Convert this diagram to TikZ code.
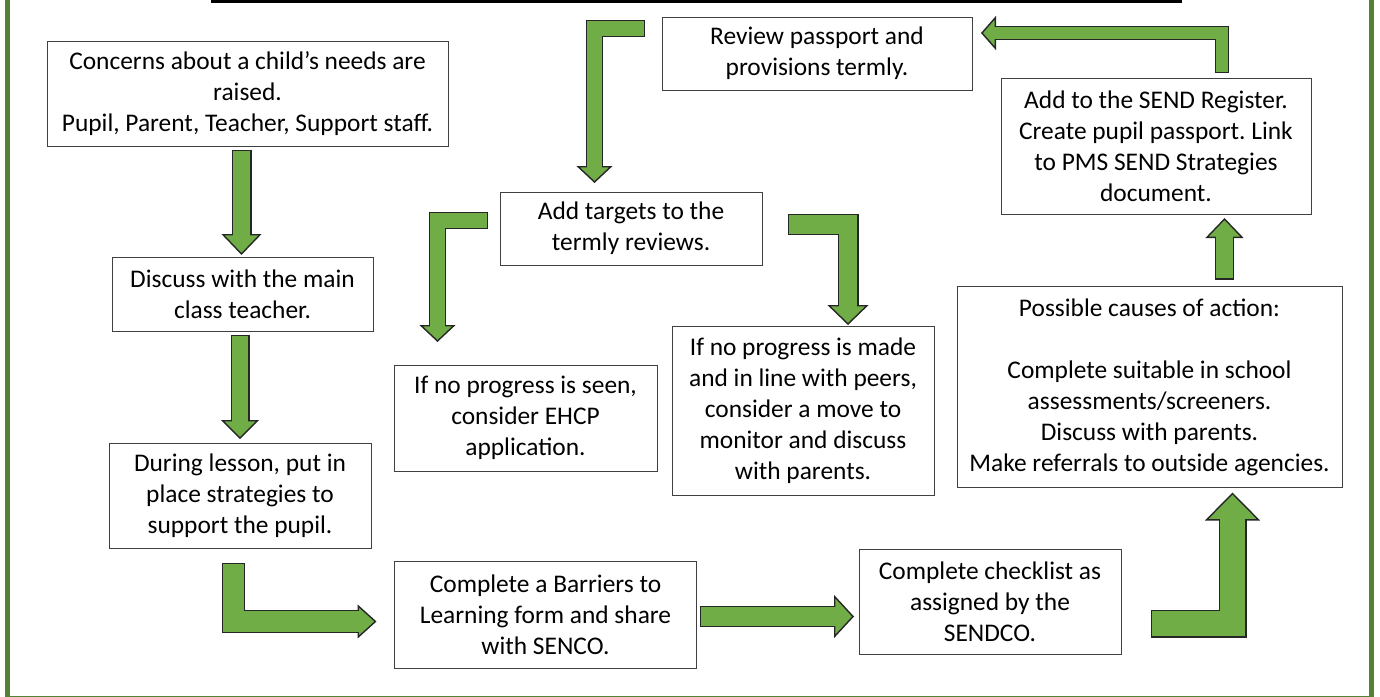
\documentclass[tikz,border=0pt]{standalone}
\usepackage{fontspec}
\setmainfont{Carlito}
\usetikzlibrary{positioning,arrows.meta,calc}
\frenchspacing
\definecolor{arrowgreen}{HTML}{70AD47}
\definecolor{framegreen}{HTML}{548235}
\definecolor{edgedark}{HTML}{262626}
\definecolor{boxline}{HTML}{404040}
\tikzset{
stepbox/.style 2 args = {rectangle, draw=boxline, line width=1pt, fill=white, align=center,
  minimum width=#1, minimum height=#2, inner sep=0pt, outer sep=0pt,
  font=\fontsize{25.4}{31}\selectfont}
}
\tikzset{
% shaft width, head width, head length
blockarrow/.style n args = {3}{draw=edgedark, line width=#1, line join=miter, line cap=butt,
  -{Triangle[width=#2, length=#3, line width=1.4pt, fill=arrowgreen, color=edgedark]},
  postaction={draw=arrowgreen, line width=#1-2.8pt, -, shorten <=1.4pt, shorten >=#3-3pt}}
}

\begin{document}
\begin{tikzpicture}[x=1pt, y=-1pt]
    \useasboundingbox (0,0) rectangle (1380,696);
    % frame and title rule
    \draw[framegreen, line width=5pt, line join=miter] (7.5,-10) |- (1371.5,698) -- (1371.5,-10);
    \fill[black] (211,0) rectangle (1182,3);

    % left column
    \node [stepbox={401pt}{105pt}] (concerns) at (247.5,93.5)
        {Concerns about a child’s needs are\\raised.\\Pupil, Parent, Teacher, Support staff.};
    \node [stepbox={261pt}{74pt}] (discuss) at (242.5,294) {Discuss with the main\\class teacher.};
    \node [stepbox={262pt}{105pt}] (during) at (240,495.5)
        {During lesson, put in\\place strategies to\\support the pupil.};
    % bottom row
    \node [stepbox={302pt}{107pt}] (barriers) at (545.5,614.5)
        {Complete a Barriers to\\Learning form and share\\with SENCO.};
    \node [stepbox={262pt}{105pt}] (checklist) at (990,601.5)
        {Complete checklist as\\assigned by the\\SENDCO.};
    % right column
    \node [stepbox={385pt}{201pt}] (possible) at (1149.5,387)
        {Possible causes of action:\\[31pt]Complete suitable in school\\assessments/screeners.\\Discuss with parents.\\Make referrals to outside agencies.};
    \node [stepbox={310pt}{136pt}] (sendreg) at (1156,146)
        {Add to the SEND Register.\\Create pupil passport. Link\\to PMS SEND Strategies\\document.};
    % middle
    \node [stepbox={310pt}{73pt}] (review) at (817,53.5) {Review passport and\\provisions termly.};
    \node [stepbox={262pt}{73pt}] (targets) at (631,228.5) {Add targets to the\\termly reviews.};
    \node [stepbox={263pt}{106pt}] (ehcp) at (525.5,418)
        {If no progress is seen,\\consider EHCP\\application.};
    \node [stepbox={262pt}{169pt}] (noprog) at (803,410.5)
        {If no progress is made\\and in line with peers,\\consider a move to\\monitor and discuss\\with parents.};

    % block arrows
    \draw[blockarrow={20pt}{40pt}{21pt}] ($(concerns.south -| discuss.north)+(-1,4)$) -- ($(discuss.north)+(-1,-2)$);
    \draw[blockarrow={19pt}{38pt}{19pt}] ($(discuss.south -| during.north)+(0,4)$) -- ($(during.north)+(0,-4)$);
    \draw[blockarrow={23pt}{34pt}{19pt}] ($(during.south)+(-6.5,15)$) |- ($(barriers.west)+(-18,7)$);
    \draw[blockarrow={21pt}{43pt}{20pt}] ($(barriers.east)+(3.5,2)$) -- ($(checklist.west)+(-5,15)$);
    \draw[blockarrow={28pt}{55pt}{28pt}] ($(checklist.east)+(30,22)$) -| ($(possible.south)+(83,5)$);
    \draw[blockarrow={19pt}{38pt}{20pt}] ($(possible.north)+(75,-7)$) -- ($(sendreg.south)+(68.5,4)$);
    \draw[blockarrow={14pt}{34pt}{15pt}] ($(sendreg.north)+(66,-5)$) |- ($(review.east)+(9,-20.5)$);
    \draw[blockarrow={17pt}{36pt}{17pt}] ($(review.west)+(-17,-25)$) -| ($(targets.north)+(-36.5,-9)$);
    \draw[blockarrow={17pt}{36pt}{17pt}] ($(targets.west)+(-12,-8)$) -| ($(ehcp.north)+(-88,-23)$);
    \draw[blockarrow={21pt}{41pt}{20pt}] ($(targets.east)+(26,-4)$) -| ($(noprog.north)+(45,-1)$);
\end{tikzpicture}
\end{document}
